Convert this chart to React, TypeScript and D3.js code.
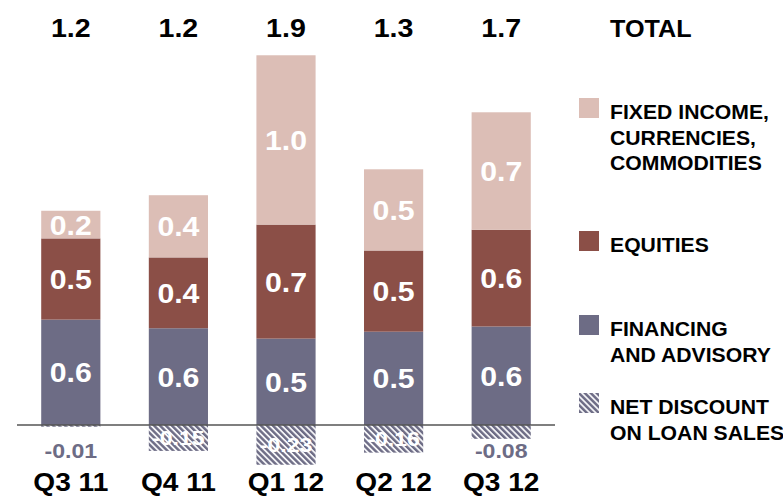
import React from 'react';
import * as d3 from 'd3';

const quarters = ['Q3 11', 'Q4 11', 'Q1 12', 'Q2 12', 'Q3 12'];
const financing = [0.61, 0.56, 0.5, 0.54, 0.57];
const equities = [0.47, 0.41, 0.66, 0.47, 0.56];
const ficc = [0.16, 0.36, 0.98, 0.47, 0.68];
const netDiscount = [-0.01, -0.15, -0.23, -0.16, -0.08];
const totals = ['1.2', '1.2', '1.9', '1.3', '1.7'];

const legendItems = [
  { key: 'ficc', lines: ['FIXED INCOME,', 'CURRENCIES,', 'COMMODITIES'] },
  { key: 'equities', lines: ['EQUITIES'] },
  { key: 'financing', lines: ['FINANCING', 'AND ADVISORY'] },
  { key: 'discount', lines: ['NET DISCOUNT', 'ON LOAN SALES'] },
];

const colors: Record<string, string> = {
  ficc: '#dcbeb6',
  equities: '#8b4f47',
  financing: '#6d6c85',
  discount: 'url(#hatch)',
};

const font = "'Liberation Sans', Arial, sans-serif";

// the source text is a little wider than Arial, so stretch it sideways
function Label({ x, y, sx = 1.1, anchor = 'middle', children, ...rest }: any) {
  return (
    <text transform={`translate(${x},${y}) scale(${sx},1)`} textAnchor={anchor} fontWeight="bold" {...rest}>
      {children}
    </text>
  );
}

export default function App() {
  const w = 783;
  const h = 496;
  const baseY = 425;

  const x = d3.scaleBand<string>().domain(quarters).range([17, 555]).paddingInner(0.45).paddingOuter(0.225);
  // ~173 px per unit, zero at the baseline
  const y = d3.scaleLinear().domain([0, 2.13]).range([baseY, 57]);

  const series = [
    { key: 'financing', values: financing },
    { key: 'equities', values: equities },
    { key: 'ficc', values: ficc },
  ];
  const stacked = quarters.map((q, i) => {
    let acc = 0;
    return series.map((s) => {
      const y0 = acc;
      acc += s.values[i];
      return { key: s.key, q, v: s.values[i], y0, y1: acc };
    });
  });

  const bw = x.bandwidth();
  const legendY: Record<string, number> = { ficc: 119, equities: 252, financing: 336, discount: 414 };

  return (
    <svg width={w} height={h} style={{ position: 'absolute', left: 0, top: 0 }} fontFamily={font}>
      <defs>
        <pattern id="hatch" width="4.2" height="4.2" patternUnits="userSpaceOnUse" patternTransform="rotate(-45)">
          <rect width="4.2" height="4.2" fill="#f4f4f7" />
          <rect width="2.4" height="4.2" fill="#6d6c85" />
        </pattern>
      </defs>

      {stacked.map((segs) =>
        segs.map((s) => {
          const top = y(s.y1);
          const bot = y(s.y0);
          const cx = (x(s.q) ?? 0) + bw / 2;
          return (
            <g key={s.q + s.key}>
              <rect x={x(s.q)} y={top} width={bw} height={bot - top} fill={colors[s.key]} />
              <Label x={cx} y={(top + bot) / 2 + 10} fill="#fff" fontSize={28} sx={1.08}>
                {s.v.toFixed(1)}
              </Label>
            </g>
          );
        })
      )}

      {netDiscount.map((v, i) => {
        const q = quarters[i];
        const top = y(0);
        const bot = y(v);
        const cx = (x(q) ?? 0) + bw / 2;
        const inside = Math.abs(v) >= 0.1;
        return (
          <g key={'nd' + q}>
            <rect x={x(q)} y={top} width={bw} height={bot - top} fill={colors.discount} />
            <Label
              x={cx}
              y={inside ? (top + bot) / 2 + 7 : 458}
              fill={inside ? '#fff' : '#6d6c85'}
              fontSize={21}
              sx={1.1}
            >
              {v.toFixed(2)}
            </Label>
          </g>
        );
      })}

      <line x1={17} x2={555} y1={baseY} y2={baseY} stroke="#555" strokeWidth={1.5} />

      {quarters.map((q, i) => (
        <g key={'lab' + q}>
          <Label x={(x(q) ?? 0) + bw / 2} y={37} fontSize={26} sx={1.1}>
            {totals[i]}
          </Label>
          <Label x={(x(q) ?? 0) + bw / 2} y={491} fontSize={26} sx={1.08}>
            {q}
          </Label>
        </g>
      ))}

      <Label x={610} y={37} fontSize={24} anchor="start" sx={1.05}>TOTAL</Label>
      {legendItems.map((item) => {
        const by = legendY[item.key];
        return (
          <g key={item.key}>
            <rect x={579} y={by - 21} width={20} height={20} fill={colors[item.key]} />
            {item.lines.map((ln, j) => (
              <Label key={ln} x={610} y={by + j * 25.5} fontSize={20} anchor="start" sx={1.06}>
                {ln}
              </Label>
            ))}
          </g>
        );
      })}
    </svg>
  );
}
